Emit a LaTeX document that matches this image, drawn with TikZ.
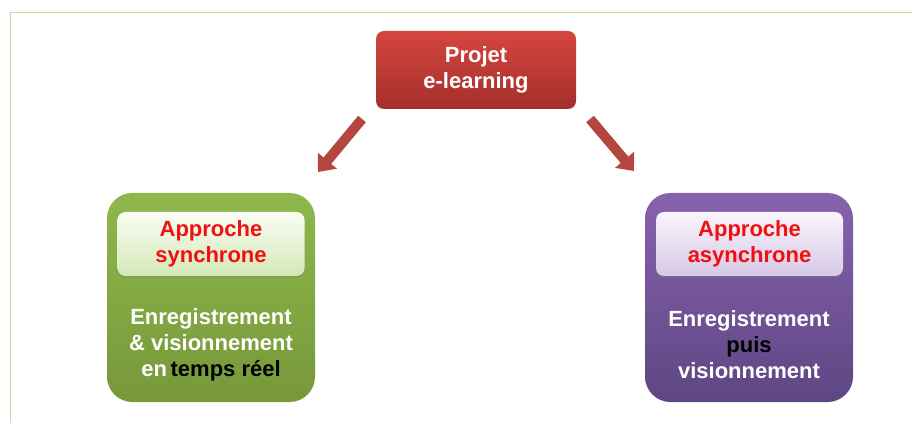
\documentclass[tikz,border=0pt]{standalone}
\usepackage{fontspec}
\setmainfont{Liberation Sans}
\usepackage{tikz}
\usetikzlibrary{arrows.meta}
\usetikzlibrary{shadows}
\definecolor{rougeH}{HTML}{D4463F}
\definecolor{rougeB}{HTML}{A42F2B}
\definecolor{fleche}{HTML}{B5463F}
\definecolor{vertH}{HTML}{8EB84C}
\definecolor{vertB}{HTML}{77983A}
\definecolor{vertclairH}{HTML}{FBFDF5}
\definecolor{vertclairB}{HTML}{D3E8B6}
\definecolor{violetH}{HTML}{8763AD}
\definecolor{violetB}{HTML}{5E4683}
\definecolor{violetclairH}{HTML}{F8F4FB}
\definecolor{violetclairB}{HTML}{D8C9E8}
\definecolor{cadre}{HTML}{C3DC9C}
\definecolor{rougetexte}{HTML}{F01010}

\begin{document}
\begin{tikzpicture}[x=0.75pt, y=-0.75pt]
	% STYLES
	\tikzstyle{police} = [font=\fontsize{16.5}{19.5}\selectfont\bfseries, align=center]
	\tikzstyle{projetbox} = [police, rectangle, rounded corners=6pt, text=white,
		minimum width=150pt, minimum height=58.5pt, top color=rougeH, bottom color=rougeB]
	\tikzstyle{grandbox} = [rectangle, rounded corners=19pt,
		minimum width=156pt, minimum height=156.75pt]
	\tikzstyle{titrebox} = [police, rectangle, rounded corners=6pt, text=rougetexte,
		minimum width=140.25pt, minimum height=48pt,
		drop shadow={shadow xshift=0pt, shadow yshift=-1.5pt, opacity=.3}]
	\tikzstyle{texte} = [police, text=white]
	\tikzstyle{flechebloc} = [line width=7.5pt, draw=fleche,
		-{Triangle[width=18pt, length=11pt]}]
	\tikzstyle{bordure} = [line width=0.75pt, draw=cadre]

	\useasboundingbox (0,0) rectangle (912,423);
	\fill[white] (0,0) rectangle (912,423);
	\draw[bordure] (10,423) -- (10,13) -- (912,13);

	% NOEUDS
	\node[projetbox] at (476,70) (projet) {Projet\\e-learning};

	% synchrone
	\node[grandbox, top color=vertH, bottom color=vertB] at (211,297.5) (sync) {};
	\node[titrebox, top color=vertclairH, bottom color=vertclairB] at (211,244) (syncTitre)
		{Approche\\synchrone};
	\node[texte] at (211,345) (syncTexte)
		{Enregistrement\\\& visionnement\\en\,{\color{black}temps réel}};

	% asynchrone
	\node[grandbox, top color=violetH, bottom color=violetB] at (749,297.5) (async) {};
	\node[titrebox, top color=violetclairH, bottom color=violetclairB] at (749.5,244) (asyncTitre)
		{Approche\\asynchrone};
	\node[texte] at (749,345) (asyncTexte)
		{Enregistrement\\{\color{black}puis}\\visionnement};

	% FLECHES
	\coordinate (gD) at (362,119);
	\coordinate (gA) at (318,172);
	\coordinate (dD) at (590,119);
	\coordinate (dA) at (634,171);
	\draw[flechebloc] (gD) -- (gA);
	\draw[flechebloc] (dD) -- (dA);
\end{tikzpicture}
\end{document}
